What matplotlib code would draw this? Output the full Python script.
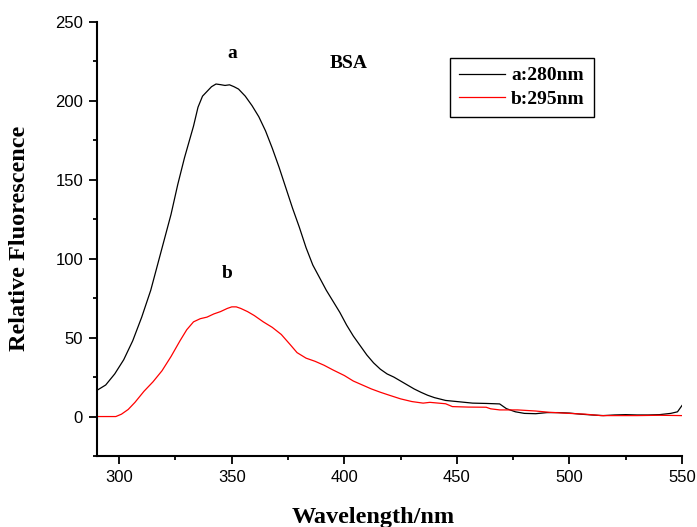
import matplotlib
matplotlib.use("Agg")
import matplotlib.pyplot as plt
from matplotlib.ticker import MultipleLocator

# Curve a (excitation 280 nm)
wl_a = [290, 294, 298, 302, 306, 310, 314, 317, 320, 323, 326, 329, 331, 333, 335, 337,
        339, 341, 343, 345, 347, 349, 351, 353, 356, 359, 362, 365, 368, 371, 374, 377,
        380, 383, 386, 389, 392, 395, 398, 401, 404, 407, 410, 413, 416, 419, 422, 425,
        428, 431, 434, 437, 440, 445, 450, 457, 463, 469, 472, 476, 480, 485, 490, 495,
        500, 505, 510, 515, 520, 525, 530, 535, 540, 545, 548, 550]
fl_a = [16.5, 20, 27, 36, 48, 63, 80, 96, 112, 128, 147, 164, 174, 184, 196, 203,
        206, 209, 210.7, 210.3, 209.8, 210.2, 209, 207.5, 203, 197, 190, 181, 170, 158, 145, 132,
        120, 107, 96, 88, 80, 73, 66, 58, 51, 45, 39, 34, 30, 27, 25, 22.5,
        20, 17.5, 15.4, 13.5, 12, 10.2, 9.5, 8.5, 8.3, 8, 5, 3, 2, 1.8, 2.5, 2.5,
        2.2, 1.5, 1.0, 0.6, 1.0, 1.2, 1.0, 1.0, 1.2, 2.0, 3.0, 7]

# Curve b (excitation 295 nm)
wl_b = [290, 298.5, 301, 304, 307, 311, 315, 319, 323, 327, 330, 333, 336, 339, 342, 345,
        348, 350, 352, 354, 357, 360, 364, 368, 372, 376, 379, 383, 387, 391, 395, 400,
        404, 408, 412, 416, 420, 425, 430, 435, 438, 445, 448, 455, 463, 465, 469, 477,
        485, 491, 500, 507, 514, 520, 530, 540, 550]
fl_b = [0, 0, 1.5, 4.5, 9, 16, 22, 29, 38, 48, 55, 60, 62, 63, 65, 66.5,
        68.5, 69.5, 69.5, 68.5, 66.5, 64, 60, 56.5, 52, 45.5, 40.5, 37, 35, 32.5, 29.5, 26,
        22.5, 20, 17.5, 15.4, 13.5, 11.2, 9.5, 8.5, 9, 8.1, 6.3, 6, 5.9, 4.9, 4.2, 4.2,
        3.5, 2.7, 2, 1.5, 0.6, 0.6, 0.6, 0.8, 0.6]

series_labels = ["a:280nm", "b:295nm"]
x_ticks = [300, 350, 400, 450, 500, 550]
y_ticks = [0, 50, 100, 150, 200, 250]

serif = ["Liberation Serif", "DejaVu Serif"]
sans = ["Liberation Sans", "DejaVu Sans"]

fig = plt.figure(figsize=(6.97, 5.27), dpi=100)
ax = fig.add_axes([96.7 / 697, (527 - 456) / 527, (682 - 96.7) / 697, (456 - 22) / 527])

ax.plot(wl_a, fl_a, color="black", lw=0.9, label=series_labels[0])
ax.plot(wl_b, fl_b, color="red", lw=0.9, label=series_labels[1])

ax.set_xlim(290, 550)
ax.set_ylim(-25, 250)
ax.set_xticks(x_ticks)
ax.set_yticks(y_ticks)
ax.xaxis.set_minor_locator(MultipleLocator(25))
ax.yaxis.set_minor_locator(MultipleLocator(25))

for s in ["top", "right"]:
    ax.spines[s].set_visible(False)
for s in ["left", "bottom"]:
    ax.spines[s].set_linewidth(1.5)

ax.tick_params(which="major", direction="out", length=5.8, width=1.3, pad=4)
ax.tick_params(which="minor", direction="out", length=2.9, width=1.3)
for lab in ax.get_xticklabels() + ax.get_yticklabels():
    lab.set_fontfamily(sans)
    lab.set_fontsize(12)

ax.text(350.1, 230, "a", fontfamily=serif, fontweight="bold", fontsize=14, ha="center", va="center")
ax.text(402, 224, "BSA", fontfamily=serif, fontweight="bold", fontsize=14, ha="center", va="center")
ax.text(347.8, 90.7, "b", fontfamily=serif, fontweight="bold", fontsize=14, ha="center", va="center")

fig.text(373 / 697, 1 - 517 / 527, "Wavelength/nm", fontfamily=serif, fontweight="bold",
         fontsize=17.5, ha="center", va="center")
fig.text(20 / 697, 1 - 238 / 527, "Relative Fluorescence", fontfamily=serif, fontweight="bold",
         fontsize=17.5, ha="center", va="center", rotation=90)

leg = ax.legend(loc="upper left", bbox_to_anchor=((450 - 96.7) / (682 - 96.7), (456 - 58) / 434),
                borderaxespad=0, fancybox=False, edgecolor="black", framealpha=1,
                prop={"family": serif, "weight": "bold", "size": 14},
                handlelength=2.4, handletextpad=0.3, borderpad=0.45, labelspacing=0.3)
leg.get_frame().set_linewidth(1.0)

fig.savefig("out.png", dpi=100)
